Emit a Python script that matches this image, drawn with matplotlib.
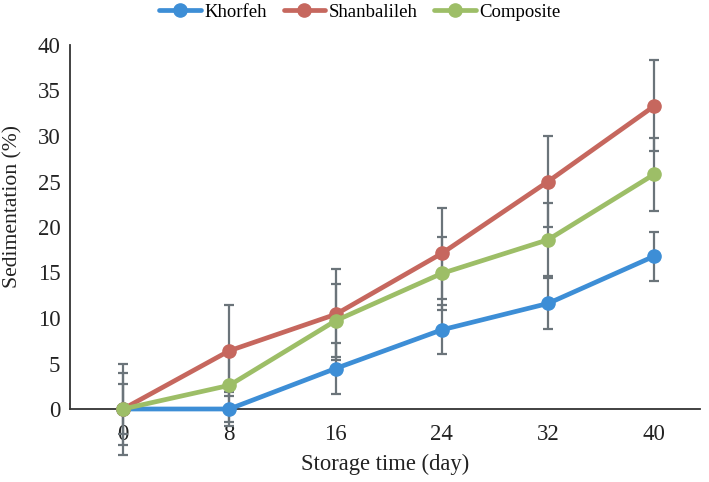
import matplotlib
matplotlib.use("Agg")
import matplotlib.pyplot as plt
import numpy as np

days = ["0", "8", "16", "24", "32", "40"]
khorfeh = [0, 0, 4.45, 8.7, 11.6, 16.8]
khorfeh_err = [2.7, 1.9, 2.75, 2.7, 2.8, 2.7]
shanbalileh = [0, 6.4, 10.4, 17.1, 25.0, 33.3]
shanbalileh_err = [5.0, 5.0, 5.0, 5.0, 5.0, 5.0]
composite = [0, 2.6, 9.7, 14.9, 18.6, 25.8]
composite_err = [4.0, 4.0, 4.0, 4.0, 4.0, 4.0]

series = [
    ("Khorfeh", khorfeh, khorfeh_err, "#3D8ED6"),
    ("Shanbalileh", shanbalileh, shanbalileh_err, "#C6675E"),
    ("Composite", composite, composite_err, "#9DBE67"),
]

plt.rcParams['font.family'] = ['Liberation Serif', 'DejaVu Serif']

fig = plt.figure(figsize=(7.09, 4.82), dpi=100)
W, H = 709, 482
left, right, top, bottom = 70, 700, 45, 409
ax = fig.add_axes([left / W, 1 - bottom / H, (right - left) / W, (bottom - top) / H])

x = np.arange(len(days))
err_color = "#6B747A"
for name, vals, errs, col in series:
    eb = ax.errorbar(x, vals, yerr=errs, fmt="none", ecolor=err_color, elinewidth=1.6,
                     capsize=3.6, capthick=1.6, zorder=4)
    for art in eb.lines[1]:
        art.set_clip_on(False)
    for art in eb.lines[2]:
        art.set_clip_on(False)
for name, vals, errs, col in series:
    ax.plot(x, vals, color=col, lw=3.4, marker="o", markersize=9.5, label=name,
            zorder=5, solid_capstyle="round", clip_on=False)

ax.set_xlim(-0.5, 5.43)
ax.set_ylim(0, 40)
ax.set_yticks(range(0, 41, 5))
ax.set_xticks(x)
ax.set_xticklabels(days)
ax.tick_params(axis="both", length=0, labelsize=16.5, colors="#222222")
ax.tick_params(axis="x", pad=11)
ax.tick_params(axis="y", pad=7)
for s in ["top", "right"]:
    ax.spines[s].set_visible(False)
for s in ["left", "bottom"]:
    ax.spines[s].set_color("#333333")
    ax.spines[s].set_linewidth(1.3)
    ax.spines[s].set_zorder(3)

ax.set_xlabel("Storage time (day)", fontsize=16.3, color="#222222", labelpad=6)
ax.set_ylabel("Sedimentation (%)", fontsize=15.6, color="#222222", labelpad=8)
ax.yaxis.set_label_coords(-0.075, (bottom - 207) / (bottom - top))

leg = fig.legend(loc="center", bbox_to_anchor=(360 / W, 1 - 12 / H), ncol=3, frameon=False,
                 fontsize=13.5, handlelength=2.2, columnspacing=0.9, handletextpad=0.2)

fig.savefig("out.png", dpi=100)
